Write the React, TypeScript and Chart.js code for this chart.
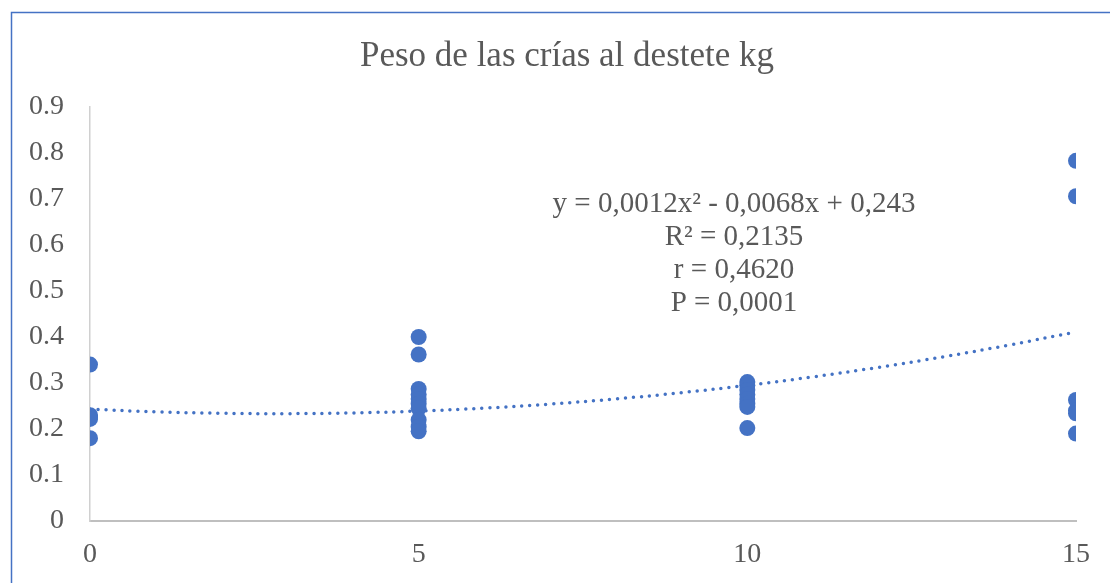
import React, { useEffect, useRef } from "react";
import { Chart, registerables } from "chart.js";

Chart.register(...registerables);

const TITLE = "Peso de las crías al destete kg";
const days0 = [0, 0, 0, 0, 0];
const weights0 = [0.34, 0.23, 0.226, 0.222, 0.18];
const days5 = [5, 5, 5, 5, 5, 5, 5, 5, 5, 5];
const weights5 = [0.4, 0.362, 0.287, 0.275, 0.265, 0.255, 0.245, 0.22, 0.205, 0.195];
const days10 = [10, 10, 10, 10, 10, 10, 10, 10];
const weights10 = [0.302, 0.295, 0.285, 0.275, 0.265, 0.255, 0.248, 0.202];
const days15 = [15, 15, 15, 15, 15, 15];
const weights15 = [0.783, 0.706, 0.263, 0.24, 0.234, 0.19];
// polynomial trendline coefficients (a x^2 + b x + c) as shown in chart
const trendCoef = [0.0012, -0.0068, 0.243];
const trendX = [0, 1, 2, 3, 4, 5, 6, 7, 8, 9, 10, 11, 12, 13, 14, 15];
const annotationLines = [
  "y = 0,0012x² - 0,0068x + 0,243",
  "R² = 0,2135",
  "r = 0,4620",
  "P = 0,0001",
];
const yTicks = [0, 0.1, 0.2, 0.3, 0.4, 0.5, 0.6, 0.7, 0.8, 0.9];
const xTicks = [0, 5, 10, 15];

const FONT = '"Liberation Serif", "Times New Roman", serif';

export default function App() {
  const ref = useRef<HTMLCanvasElement | null>(null);
  useEffect(() => {
    document.body.style.margin = "0";
    const pts: { x: number; y: number }[] = [];
    const groups: [number[], number[]][] = [
      [days0, weights0],
      [days5, weights5],
      [days10, weights10],
      [days15, weights15],
    ];
    groups.forEach(([xs, ys]) => xs.forEach((x, i) => pts.push({ x, y: ys[i] })));
    const trend = trendX.map((x) => ({
      x,
      y: trendCoef[0] * x * x + trendCoef[1] * x + trendCoef[2],
    }));

    const decor = {
      id: "decor",
      beforeDraw(chart: any) {
        const ctx = chart.ctx;
        ctx.save();
        ctx.fillStyle = "#ffffff";
        ctx.fillRect(0, 0, chart.width, chart.height);
        ctx.strokeStyle = "#4472C4";
        ctx.lineWidth = 1.5;
        ctx.strokeRect(11.5, 12.5, 2000, 2000);
        ctx.fillStyle = "#595959";
        ctx.font = `35px ${FONT}`;
        ctx.textAlign = "center";
        ctx.textBaseline = "middle";
        ctx.fillText(TITLE, 567, 57);
        ctx.restore();
      },
      afterDatasetsDraw(chart: any) {
        const ctx = chart.ctx;
        ctx.save();
        ctx.fillStyle = "#595959";
        ctx.font = `29px ${FONT}`;
        ctx.textAlign = "center";
        ctx.textBaseline = "middle";
        annotationLines.forEach((t, i) => ctx.fillText(t, 734, 204 + i * 33));
        ctx.restore();
      },
    };

    const chart = new Chart(ref.current as HTMLCanvasElement, {
      type: "scatter",
      data: {
        datasets: [
          {
            label: "trend",
            data: trend,
            showLine: true,
            pointRadius: 0,
            borderColor: "#4472C4",
            borderWidth: 3.5,
            borderDash: [0, 8],
            borderCapStyle: "round",
            tension: 0.4,
            order: 2,
          } as any,
          {
            label: "Peso",
            data: pts,
            pointRadius: 8,
            pointHoverRadius: 8,
            backgroundColor: "#4472C4",
            borderColor: "#4472C4",
            borderWidth: 0,
            order: 1,
          },
        ],
      },
      options: {
        animation: false,
        responsive: true,
        maintainAspectRatio: false,
        layout: { padding: { top: 107, right: 34, bottom: 0, left: 0 } },
        plugins: {
          legend: { display: false },
          title: { display: false },
          tooltip: { enabled: false },
        },
        scales: {
          x: {
            type: "linear",
            min: 0,
            max: 15,
            afterBuildTicks: (s: any) => {
              s.ticks = xTicks.map((v) => ({ value: v }));
            },
            afterFit: (s: any) => {
              s.height = 62;
            },
            grid: { display: false, drawTicks: false },
            border: { display: true, color: "#BFBFBF", width: 2 },
            ticks: {
              padding: 17,
              color: "#595959",
              font: { family: FONT, size: 28 },
              maxRotation: 0,
              callback: (v: any) => String(v),
            },
          },
          y: {
            type: "linear",
            min: 0,
            max: 0.9,
            afterBuildTicks: (s: any) => {
              s.ticks = yTicks.map((v) => ({ value: v }));
            },
            afterFit: (s: any) => {
              s.width = 90;
            },
            grid: { display: false, drawTicks: false },
            border: { display: true, color: "#D0D0D0", width: 1.5 },
            ticks: {
              padding: 26,
              color: "#595959",
              font: { family: FONT, size: 28 },
              callback: (v: any) => String(Math.round(Number(v) * 10) / 10),
            },
          },
        },
      } as any,
      plugins: [decor],
    });
    return () => chart.destroy();
  }, []);
  return (
    <div style={{ width: 1110, height: 583, position: "relative" }}>
      <canvas ref={ref} />
    </div>
  );
}
